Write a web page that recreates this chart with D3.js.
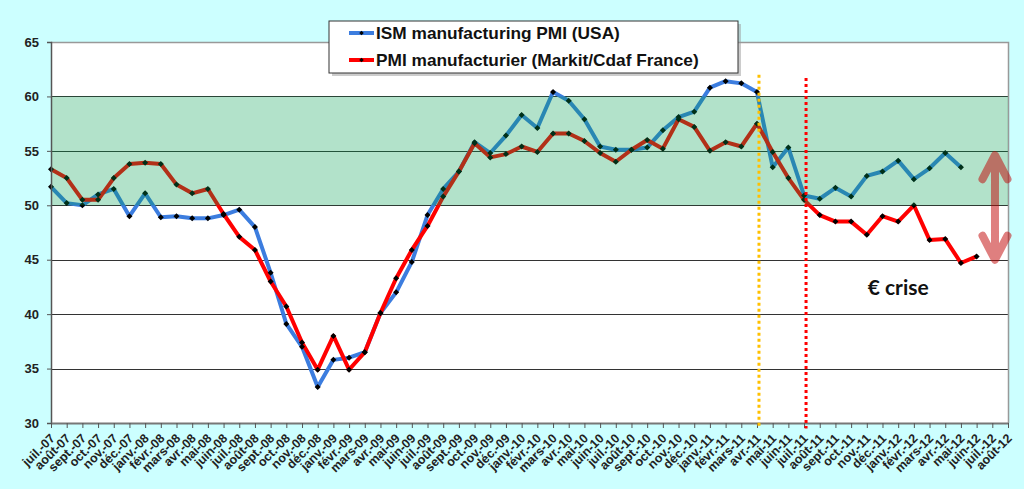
<!DOCTYPE html>
<html>
<head>
<meta charset="utf-8">
<script src="https://cdn.jsdelivr.net/npm/d3@7"></script>
<style>
  body { margin: 0; background: #ccffff; }
  svg { display: block; }
</style>
</head>
<body>
<div id="chart"></div>
<script>
// month labels (x categories)
var months = [
  "juil.-07","août-07","sept.-07","oct.-07","nov.-07","déc.-07",
  "janv.-08","févr.-08","mars-08","avr.-08","mai-08","juin-08",
  "juil.-08","août-08","sept.-08","oct.-08","nov.-08","déc.-08",
  "janv.-09","févr.-09","mars-09","avr.-09","mai-09","juin-09",
  "juil.-09","août-09","sept.-09","oct.-09","nov.-09","déc.-09",
  "janv.-10","févr.-10","mars-10","avr.-10","mai-10","juin-10",
  "juil.-10","août-10","sept.-10","oct.-10","nov.-10","déc.-10",
  "janv.-11","févr.-11","mars-11","avr.-11","mai-11","juin-11",
  "juil.-11","août-11","sept.-11","oct.-11","nov.-11","déc.-11",
  "janv.-12","févr.-12","mars-12","avr.-12","mai-12","juin-12",
  "juil.-12","août-12"
];

// ISM manufacturing PMI (USA), juil.-07 .. mai-12
var ism = [
  51.7, 50.2, 50.0, 51.0, 51.5, 49.0, 51.1, 48.9, 49.0, 48.8, 48.8, 49.1,
  49.6, 48.0, 43.8, 39.1, 37.0, 33.3, 35.8, 36.0, 36.5, 40.1, 42.0, 44.8,
  49.1, 51.5, 53.1, 55.8, 54.8, 56.4, 58.3, 57.1, 60.4, 59.6, 57.9, 55.4,
  55.1, 55.1, 55.3, 56.9, 58.1, 58.6, 60.8, 61.4, 61.2, 60.4, 53.5, 55.3,
  50.9, 50.6, 51.6, 50.8, 52.7, 53.1, 54.1, 52.4, 53.4, 54.8, 53.5
];

// PMI manufacturier (Markit/Cdaf France), juil.-07 .. juin-12
var pmiFrance = [
  53.3, 52.5, 50.5, 50.5, 52.5, 53.8, 53.9, 53.8, 51.9, 51.1, 51.5, 49.2,
  47.1, 45.9, 43.0, 40.7, 37.4, 34.9, 38.0, 34.9, 36.5, 40.1, 43.3, 45.9,
  48.1, 50.8, 53.1, 55.7, 54.4, 54.7, 55.4, 54.9, 56.6, 56.6, 55.9, 54.8,
  54.0, 55.1, 56.0, 55.2, 57.9, 57.2, 55.0, 55.8, 55.4, 57.5, 54.9, 52.5,
  50.5, 49.1, 48.5, 48.5, 47.3, 49.0, 48.5, 50.0, 46.8, 46.9, 44.7, 45.3
];

var yTicks = [30, 35, 40, 45, 50, 55, 60, 65];
var band = [50, 60];
var seriesNames = ["ISM manufacturing PMI (USA)", "PMI manufacturier (Markit/Cdaf France)"];
var seriesColors = ["#3c7ddf", "#ff0000"];

// vertical markers
var eventMonths = ["avr.-11", "juil.-11"];
var eventTops = [62, 61.7];
var eventColors = ["#ffc000", "#ff0000"];

// arrow between the two series
var arrowMonth = "juil.-12";
var arrowRange = [54.6, 45.0];
var noteMonth = "janv.-12";
var noteValue = 41.75;
var noteText = "€ crise";

var W = 1024, H = 489;
var margin = {top: 42, right: 16, bottom: 66, left: 51};

var svg = d3.select("#chart").append("svg")
    .attr("width", W)
    .attr("height", H);

svg.append("rect")
    .attr("width", W).attr("height", H)
    .attr("fill", "#ccffff");

var x = d3.scalePoint()
    .domain(months)
    .range([margin.left, W - margin.right])
    .padding(0);

var y = d3.scaleLinear()
    .domain([30, 65])
    .range([H - margin.bottom, margin.top]);

// plot area
svg.append("rect")
    .attr("x", margin.left)
    .attr("y", margin.top)
    .attr("width", W - margin.right - margin.left)
    .attr("height", H - margin.bottom - margin.top)
    .attr("fill", "#ffffff");

// gridlines
svg.selectAll(".grid")
  .data(yTicks.slice(1, -1))
  .join("line")
    .attr("class", "grid")
    .attr("x1", margin.left)
    .attr("x2", W - margin.right)
    .attr("y1", d => Math.round(y(d)) + 0.5)
    .attr("y2", d => Math.round(y(d)) + 0.5)
    .attr("stroke", "#333")
    .attr("stroke-width", 1);

// top + right border of plot area
svg.append("path")
    .attr("d", "M" + margin.left + "," + (Math.round(y(65)) + 0.5) +
               "H" + (W - margin.right + 0.5) + "V" + y(30))
    .attr("fill", "none")
    .attr("stroke", "#999")
    .attr("stroke-width", 1.5);

// lines
var line = d3.line()
    .x((d, i) => x(months[i]))
    .y(d => y(d));

[ism, pmiFrance].forEach(function(data, k) {
  svg.append("path")
      .datum(data)
      .attr("fill", "none")
      .attr("stroke", seriesColors[k])
      .attr("stroke-width", 4)
      .attr("stroke-linejoin", "round")
      .attr("d", line);
});

[ism, pmiFrance].forEach(function(data) {
  svg.append("g").selectAll("path")
    .data(data)
    .join("path")
      .attr("d", d3.symbol().type(d3.symbolSquare).size(18))
      .attr("transform", (d, i) => "translate(" + x(months[i]) + "," + y(d) + ") rotate(45)")
      .attr("fill", "#000");
});

// green band (semi-transparent, over the lines)
svg.append("rect")
    .attr("x", margin.left)
    .attr("y", y(band[1]))
    .attr("width", W - margin.right - margin.left)
    .attr("height", y(band[0]) - y(band[1]))
    .attr("fill", "#00a050")
    .attr("opacity", 0.3);

// axes
var yAxis = svg.append("g")
    .attr("transform", "translate(" + margin.left + ",0)")
    .call(d3.axisLeft(y).tickValues(yTicks).tickSize(4).tickPadding(8));
yAxis.select(".domain").attr("stroke", "#555").attr("stroke-width", 1.5);
yAxis.selectAll(".tick line").attr("stroke", "#555");
yAxis.selectAll("text")
    .style("font-family", "Liberation Sans, Arial, sans-serif")
    .style("font-weight", "bold")
    .style("font-size", "13px")
    .attr("fill", "#222");

var xAxis = svg.append("g")
    .attr("transform", "translate(0," + y(30) + ")")
    .call(d3.axisBottom(x).tickSize(5).tickSizeOuter(0));
xAxis.select(".domain").attr("stroke", "#777").attr("stroke-width", 2);
xAxis.selectAll(".tick line").attr("stroke", "#555");
xAxis.selectAll("text")
    .attr("x", 0).attr("y", 0).attr("dy", "0.35em")
    .attr("transform", "translate(1,13) rotate(-45)")
    .attr("text-anchor", "end")
    .style("font-family", "Liberation Sans, Arial, sans-serif")
    .style("font-weight", "bold")
    .style("font-size", "12.5px")
    .attr("fill", "#222");

// dotted vertical lines
eventMonths.forEach(function(m, k) {
  svg.append("line")
      .attr("x1", x(m) + 2).attr("x2", x(m) + 2)
      .attr("y1", y(eventTops[k]))
      .attr("y2", y(29.5))
      .attr("stroke", eventColors[k])
      .attr("stroke-width", 3)
      .attr("stroke-dasharray", "3,3");
});

// double arrow
var ax = x(arrowMonth) + x.step() * 0.17;
var y0 = y(arrowRange[0]), y1 = y(arrowRange[1]);
var arrow = svg.append("g").attr("opacity", 0.5);
arrow.append("path")
    .attr("d", "M" + ax + "," + (y0 + 2) + "V" + (y1 - 2) +
               "M" + (ax - 12.5) + "," + (y0 + 24) + "L" + ax + "," + y0 + "L" + (ax + 12.5) + "," + (y0 + 24) +
               "M" + (ax - 12.5) + "," + (y1 - 24) + "L" + ax + "," + y1 + "L" + (ax + 12.5) + "," + (y1 - 24))
    .attr("fill", "none")
    .attr("stroke", "#c00000")
    .attr("stroke-width", 8)
    .attr("stroke-linecap", "round")
    .attr("stroke-linejoin", "round");

// annotation
svg.append("text")
    .attr("x", x(noteMonth))
    .attr("y", y(noteValue))
    .attr("text-anchor", "middle")
    .style("font-family", "Lato, sans-serif")
    .style("font-weight", "bold")
    .style("font-size", "21px")
    .attr("fill", "#111")
    .text(noteText);

// legend
var legend = svg.append("g").attr("transform", "translate(329,21)");
legend.append("rect")
    .attr("x", 3).attr("y", 3)
    .attr("width", 409).attr("height", 52)
    .attr("fill", "#999").attr("opacity", 0.5);
legend.append("rect")
    .attr("width", 409).attr("height", 52)
    .attr("fill", "#fff")
    .attr("stroke", "#333").attr("stroke-width", 1);

seriesNames.forEach(function(name, k) {
  var ly = 12 + k * 27;
  legend.append("line")
      .attr("x1", 20).attr("x2", 45)
      .attr("y1", ly).attr("y2", ly)
      .attr("stroke", seriesColors[k])
      .attr("stroke-width", 4);
  legend.append("path")
      .attr("d", d3.symbol().type(d3.symbolSquare).size(10))
      .attr("transform", "translate(32.5," + ly + ") rotate(45)")
      .attr("fill", "#000");
  legend.append("text")
      .attr("x", 47).attr("y", ly)
      .attr("dy", "0.36em")
      .style("font-family", "Liberation Sans, Arial, sans-serif")
      .style("font-weight", "bold")
      .style("font-size", "17.3px")
      .attr("fill", "#111")
      .text(name);
});
</script>
</body>
</html>
